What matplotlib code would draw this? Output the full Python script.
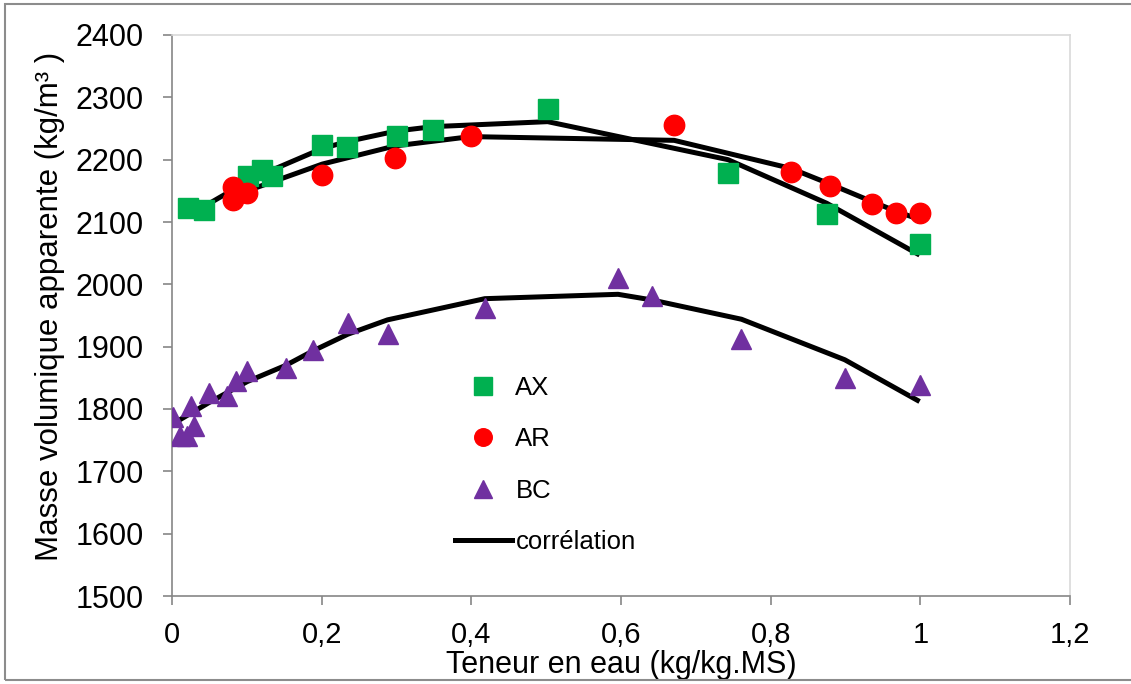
import matplotlib
matplotlib.use("Agg")
import matplotlib.pyplot as plt
from matplotlib.lines import Line2D
from matplotlib.patches import Rectangle
from matplotlib.ticker import FuncFormatter

plt.rcParams['font.family'] = ['Liberation Sans', 'DejaVu Sans']

# --- data ---
ax_x = [0.022, 0.043, 0.102, 0.120, 0.133, 0.201, 0.234, 0.300, 0.349, 0.502, 0.743, 0.875, 0.999]
ax_y = [2122, 2120, 2173, 2183, 2173, 2224, 2221, 2238, 2248, 2282, 2178, 2113, 2065]

ar_x = [0.082, 0.082, 0.1006, 0.201, 0.298, 0.399, 0.671, 0.827, 0.879, 0.935, 0.968, 0.999]
ar_y = [2156, 2135, 2147, 2175, 2202, 2238, 2255, 2180, 2157, 2129, 2114, 2115]

bc_x = [0.001, 0.011, 0.020, 0.029, 0.025, 0.049, 0.073, 0.085, 0.1006, 0.152, 0.188,
        0.235, 0.288, 0.418, 0.596, 0.641, 0.761, 0.899, 0.999]
bc_y = [1787, 1756, 1756, 1773, 1805, 1825, 1821, 1845, 1861, 1865, 1895,
        1938, 1920, 1962, 2010, 1981, 1913, 1849, 1838]

# correlation curves
ax_cx = [0.022, 0.043, 0.102, 0.120, 0.133, 0.201, 0.234, 0.300, 0.349, 0.502, 0.743, 0.875, 0.999]
ax_cy = [2110, 2125, 2166, 2176, 2183, 2218, 2229, 2246, 2253, 2261, 2200, 2130, 2047]

ar_cx = [0.082, 0.1006, 0.201, 0.298, 0.399, 0.671, 0.827, 0.879, 0.935, 0.968, 0.999]
ar_cy = [2142, 2150, 2193, 2222, 2237, 2231, 2186, 2161, 2133, 2117, 2104]

bc_cx = [0.001, 0.049, 0.1006, 0.152, 0.188, 0.235, 0.288, 0.418, 0.596, 0.641, 0.761, 0.899, 0.999]
bc_cy = [1776, 1810, 1844, 1870, 1893, 1920, 1943, 1977, 1984, 1975, 1944, 1879, 1812]

x_ticks = [0, 0.2, 0.4, 0.6, 0.8, 1.0, 1.2]
y_ticks = [1500, 1600, 1700, 1800, 1900, 2000, 2100, 2200, 2300, 2400]
legend_labels = ['AX', 'AR', 'BC', 'corrélation']

GREEN = '#00B050'
RED = '#FF0000'
PURPLE = '#7030A0'

W, H = 1131, 684
fig = plt.figure(figsize=(W / 100, H / 100), dpi=100)
ax = fig.add_axes([172 / W, 1 - 596 / H, (1070 - 172) / W, (596 - 35) / H])

lw = 3.6
ms = 14.7
ax.plot(ax_cx, ax_cy, color='black', lw=lw, zorder=2, solid_capstyle='butt')
ax.plot(ar_cx, ar_cy, color='black', lw=lw, zorder=2, solid_capstyle='butt')
ax.plot(bc_cx, bc_cy, color='black', lw=lw, zorder=2, solid_capstyle='butt')

ax.plot(ax_x, ax_y, ls='none', marker='s', ms=ms, color=GREEN, mec=GREEN, zorder=3)
ax.plot(ar_x, ar_y, ls='none', marker='o', ms=ms, color=RED, mec=RED, zorder=4)
ax.plot(bc_x, bc_y, ls='none', marker='^', ms=ms, color=PURPLE, mec=PURPLE, zorder=5)

ax.set_xlim(0, 1.2)
ax.set_ylim(1500, 2400)
ax.set_xticks(x_ticks)
ax.set_yticks(y_ticks)
ax.xaxis.set_major_formatter(FuncFormatter(lambda v, p: ('%g' % v).replace('.', ',')))

for s in ['left', 'bottom']:
    ax.spines[s].set_color('#868686')
    ax.spines[s].set_linewidth(1.2)
for s in ['top', 'right']:
    ax.spines[s].set_color('#D9D9D9')
    ax.spines[s].set_linewidth(1.2)
ax.tick_params(axis='both', direction='out', length=6.5, width=1.2, color='#868686',
               labelcolor='black')
ax.tick_params(axis='y', pad=14, labelsize=22)
ax.tick_params(axis='x', pad=11.5, labelsize=21)

ax.set_xlabel('Teneur en eau (kg/kg.MS)', fontsize=22)
ax.xaxis.set_label_coords(0.5, -0.097)
ax.set_ylabel('Masse volumique apparente (kg/m³ )', fontsize=22.5)
ax.yaxis.set_label_coords(-0.119, 0.517)

handles = [
    Line2D([], [], ls='none', marker='s', ms=ms, color=GREEN),
    Line2D([], [], ls='none', marker='o', ms=ms, color=RED),
    Line2D([], [], ls='none', marker='^', ms=ms, color=PURPLE),
    Line2D([], [], color='black', lw=lw),
]
leg = fig.legend(handles, legend_labels, loc='center left',
                 bbox_to_anchor=(455 / W, 1 - 465 / H), frameon=False, fontsize=18.5,
                 markerscale=0.86, handlelength=2.2, handletextpad=0.15,
                 labelspacing=1.07, borderpad=0, borderaxespad=0)

fig.add_artist(Rectangle((5 / W, 4 / H), 1.2, 1 - 8 / H, transform=fig.transFigure,
                         fill=False, edgecolor='#8C8C8C', lw=1.5, clip_on=False))

fig.savefig('out.png', dpi=100)
